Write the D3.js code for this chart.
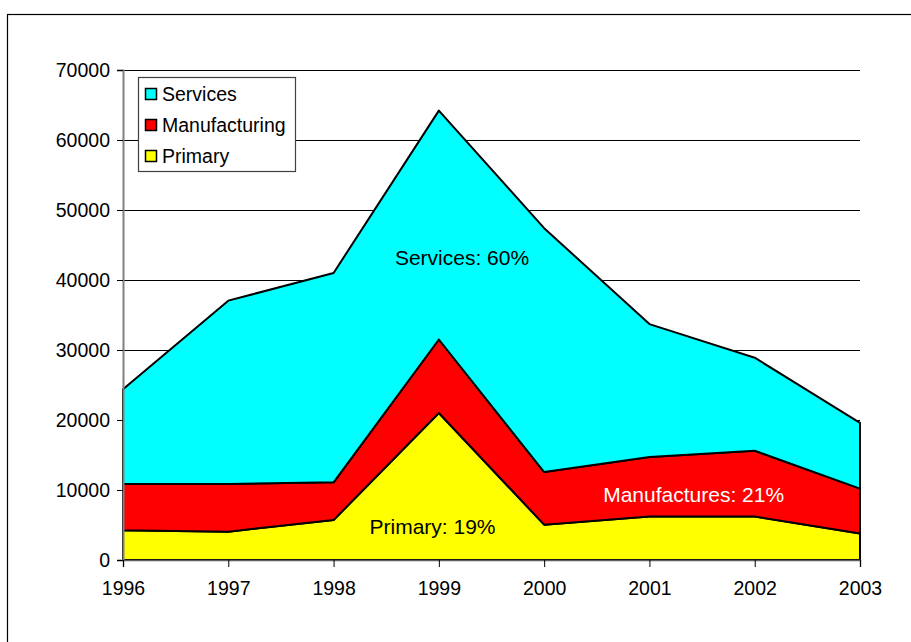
<!DOCTYPE html>
<html>
<head>
<title>Stacked area</title>
<script src="https://d3js.org/d3.v7.min.js"></script>
</head>
<body style="margin:0;background:#fff">
<script>

var years = [1996, 1997, 1998, 1999, 2000, 2001, 2002, 2003];
var primary = [4240, 4050, 5700, 21000, 5050, 6200, 6200, 3800];
var manufacturing = [6620, 6810, 5400, 10500, 7520, 8500, 9400, 6400];
var services = [13540, 26190, 29900, 32700, 34830, 19000, 13300, 9400];
var yTicks = [0, 10000, 20000, 30000, 40000, 50000, 60000, 70000];
var seriesNames = ['Primary', 'Manufacturing', 'Services'];
var seriesColors = {Primary: '#ffff00', Manufacturing: '#ff0000', Services: '#00ffff'};
var legendOrder = ['Services', 'Manufacturing', 'Primary'];

var rows = years.map(function(y, i){
	return {year: y, Primary: primary[i], Manufacturing: manufacturing[i], Services: services[i]};
});

var svg = d3.select("body").append("svg").attr("width", 911).attr("height", 642)
	.style("font-family", "'Liberation Sans', Arial, sans-serif");

// outer frame (runs off the page on the right and bottom)
svg.append("rect").attr("x", 7.5).attr("y", 14.5).attr("width", 1000).attr("height", 1000)
	.attr("fill", "none").attr("stroke", "#000").attr("stroke-width", 1.2);

var x = d3.scaleLinear().domain([1996, 2003]).range([123, 860]);
var y = d3.scaleLinear().domain([0, 70000]).range([560, 70]);

// grid
svg.append("g").selectAll("line").data(yTicks.slice(1)).enter().append("line")
	.attr("x1", 123).attr("x2", 860)
	.attr("y1", function(d){ return y(d) + 0.5; }).attr("y2", function(d){ return y(d) + 0.5; })
	.attr("stroke", "#000").attr("stroke-width", 1);

var stack = d3.stack().keys(seriesNames);
var layers = stack(rows);

var area = d3.area()
	.x(function(d){ return x(d.data.year); })
	.y0(function(d){ return y(d[0]); })
	.y1(function(d){ return y(d[1]); });

svg.append("g").selectAll("path").data(layers).enter().append("path")
	.attr("d", area)
	.attr("fill", function(d){ return seriesColors[d.key]; })
	.attr("stroke", "#000").attr("stroke-width", 2).attr("stroke-linejoin", "round");

// axes
var yAxis = d3.axisLeft(y).tickValues(yTicks).tickSize(6).tickPadding(7).tickFormat(d3.format("d"));
var gy = svg.append("g").attr("transform", "translate(123,0)").call(yAxis);
gy.select(".domain").attr("stroke", "#808080").attr("stroke-width", 2);
gy.selectAll(".tick line").attr("stroke", "#000");
gy.selectAll("text").style("font-size", "19.5px").attr("fill", "#000");

var xAxis = d3.axisBottom(x).tickValues(years).tickSize(7).tickPadding(14).tickFormat(d3.format("d"));
var gx = svg.append("g").attr("transform", "translate(0,560)").call(xAxis);
gx.select(".domain").attr("stroke", "#606060").attr("stroke-width", 1.5);
gx.selectAll(".tick line").attr("stroke", "#000");
gx.selectAll("text").style("font-size", "19.5px").attr("fill", "#000");

// in-chart labels
var notes = [
	{text: "Services: 60%", year: 1999.22, value: 42100, color: "#000"},
	{text: "Primary: 19%", year: 1998.94, value: 3650, color: "#000"},
	{text: "Manufactures: 21%", year: 2001.42, value: 8350, color: "#fff"}
];
svg.append("g").selectAll("text").data(notes).enter().append("text")
	.attr("x", function(d){ return x(d.year); })
	.attr("y", function(d){ return y(d.value); })
	.attr("text-anchor", "middle")
	.style("font-size", "21px")
	.attr("fill", function(d){ return d.color; })
	.text(function(d){ return d.text; });

// legend
var legend = svg.append("g");
legend.append("rect").attr("x", 138.5).attr("y", 77.5).attr("width", 157).attr("height", 94)
	.attr("fill", "#fff").attr("stroke", "#404040").attr("stroke-width", 1.2);
var items = legend.selectAll("g.item").data(legendOrder).enter().append("g")
	.attr("transform", function(d, i){ return "translate(0," + (94 + i * 31) + ")"; });
items.append("rect").attr("x", 145.5).attr("y", -5.5).attr("width", 11).attr("height", 11)
	.attr("fill", function(d){ return seriesColors[d]; })
	.attr("stroke", "#000").attr("stroke-width", 1.5);
items.append("text").attr("x", 162).attr("y", 0).attr("dy", "0.35em")
	.style("font-size", "19.5px").text(function(d){ return d; });

</script>
</body>
</html>
